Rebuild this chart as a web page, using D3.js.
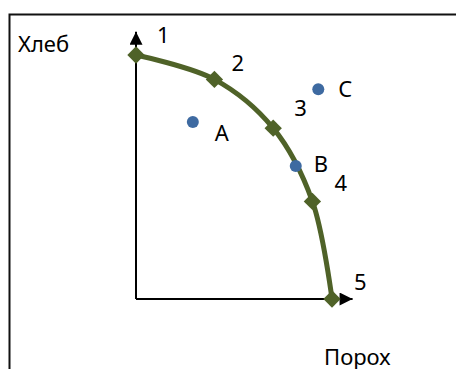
<!DOCTYPE html>
<html lang="ru">
  <head>
    <meta charset="UTF-8" />
    <title>КПВ: хлеб и порох</title>
    <script src="https://d3js.org/d3.v7.min.js"></script>
    <style>
      body {
        margin: 0;
        background: #fff;
      }
      text {
        font-family: 'Noto Sans', 'Open Sans', sans-serif;
        font-size: 22px;
        fill: #000;
      }
    </style>
  </head>
  <body>
    <div id="chart-container"></div>

    <script>
      // production possibilities frontier (gunpowder, bread)
      const frontierIds = ['1', '2', '3', '4', '5'];
      const frontierX = [0, 4, 7, 9, 10];
      const frontierY = [10, 9, 7, 4, 0];

      // other combinations
      const pointIds = ['A', 'B', 'C'];
      const pointX = [2.9, 8.15, 9.3];
      const pointY = [7.25, 5.45, 8.6];

      const axisNameX = 'Порох';
      const axisNameY = 'Хлеб';

      const svgWidth = 456;
      const svgHeight = 369;

      const svg = d3
        .select('#chart-container')
        .append('svg')
        .attr('width', svgWidth)
        .attr('height', svgHeight);

      const x = d3.scaleLinear().domain([0, 10]).range([136, 332]);
      const y = d3.scaleLinear().domain([0, 10]).range([299, 55]);

      // outer frame (only top and left edges show)
      svg
        .append('path')
        .attr('d', 'M9.5,369V14.5H456')
        .attr('fill', 'none')
        .attr('stroke', '#111')
        .attr('stroke-width', 2);

      // arrow heads
      const defs = svg.append('defs');
      defs
        .append('marker')
        .attr('id', 'arrow')
        .attr('viewBox', '0 0 10 10')
        .attr('refX', 10)
        .attr('refY', 5)
        .attr('markerUnits', 'userSpaceOnUse')
        .attr('markerWidth', 14)
        .attr('markerHeight', 13)
        .attr('orient', 'auto')
        .append('path')
        .attr('d', 'M0,0L10,5L0,10Z')
        .attr('fill', '#000');

      // axes
      svg
        .append('line')
        .attr('x1', x(0))
        .attr('y1', y(0))
        .attr('x2', x(0))
        .attr('y2', y(10.95))
        .attr('stroke', '#000')
        .attr('stroke-width', 2)
        .attr('marker-end', 'url(#arrow)');

      svg
        .append('line')
        .attr('x1', x(0))
        .attr('y1', y(0))
        .attr('x2', x(11.05))
        .attr('y2', y(0))
        .attr('stroke', '#000')
        .attr('stroke-width', 2)
        .attr('marker-end', 'url(#arrow)');

      const frontier = frontierIds.map((id, i) => ({
        id: id,
        x: frontierX[i],
        y: frontierY[i],
      }));
      const points = pointIds.map((id, i) => ({
        id: id,
        x: pointX[i],
        y: pointY[i],
      }));

      // smooth frontier line
      const line = d3
        .line()
        .x((d) => x(d.x))
        .y((d) => y(d.y))
        .curve(d3.curveCatmullRom.alpha(0.5));

      svg
        .append('path')
        .datum(frontier)
        .attr('d', line)
        .attr('fill', 'none')
        .attr('stroke', '#4f6228')
        .attr('stroke-width', 5);

      // diamond markers
      svg
        .selectAll('.marker')
        .data(frontier)
        .enter()
        .append('path')
        .attr('class', 'marker')
        .attr('d', d3.symbol(d3.symbolSquare, 150))
        .attr(
          'transform',
          (d) => `translate(${x(d.x)},${y(d.y)}) rotate(45)`,
        )
        .attr('fill', '#4f6228');

      svg
        .selectAll('.dot')
        .data(points)
        .enter()
        .append('circle')
        .attr('class', 'dot')
        .attr('cx', (d) => x(d.x))
        .attr('cy', (d) => y(d.y))
        .attr('r', 6)
        .attr('fill', '#3e6aa1');

      // labels
      const frontierDx = [21, 17, 21, 22, 22];
      const frontierDy = [-12, -8, -12, -10, -9];
      svg
        .selectAll('.flabel')
        .data(frontier)
        .enter()
        .append('text')
        .attr('class', 'flabel')
        .attr('x', (d, i) => x(d.x) + frontierDx[i])
        .attr('y', (d, i) => y(d.y) + frontierDy[i])
        .text((d) => d.id);

      const pointDx = [22, 18, 20];
      const pointDy = [19, 6, 8];
      svg
        .selectAll('.plabel')
        .data(points)
        .enter()
        .append('text')
        .attr('class', 'plabel')
        .attr('x', (d, i) => x(d.x) + pointDx[i])
        .attr('y', (d, i) => y(d.y) + pointDy[i])
        .text((d) => d.id);

      svg.append('text').attr('x', 18).attr('y', 52).text(axisNameY);
      svg.append('text').attr('x', 324).attr('y', 365).text(axisNameX);
    </script>
  </body>
</html>
